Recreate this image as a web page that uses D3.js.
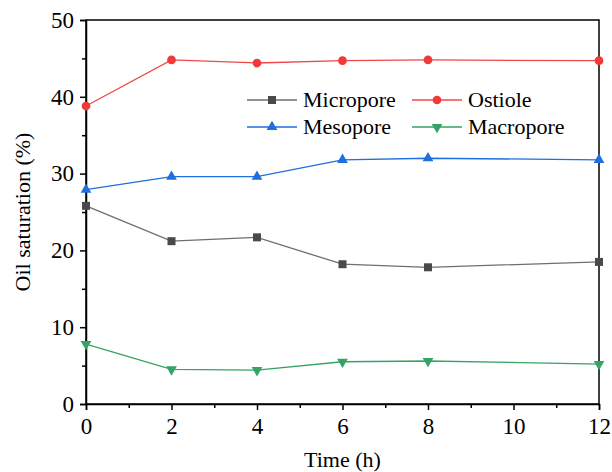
<!DOCTYPE html>
<html>
<head>
<meta charset="utf-8">
<script src="https://cdn.jsdelivr.net/npm/d3@7"></script>
<style>
  body { margin: 0; background: #fff; }
  svg text { font-family: "Liberation Serif", serif !important; fill: #000; }
</style>
</head>
<body>
<div id="chart"></div>
<script>
// Oil saturation vs time by pore type
const times = [0, 2, 4, 6, 8, 12];
const micropore = [25.8, 21.2, 21.7, 18.2, 17.8, 18.5];
const ostiole = [38.8, 44.8, 44.4, 44.7, 44.8, 44.7];
const mesopore = [27.9, 29.6, 29.6, 31.8, 32.0, 31.8];
const macropore = [7.8, 4.5, 4.4, 5.5, 5.6, 5.2];
const xTicks = [0, 2, 4, 6, 8, 10, 12];
const yTicks = [0, 10, 20, 30, 40, 50];

const series = [
    { name: "Micropore", values: micropore, line: "#6e6e6e", fill: "#4a4a4a", symbol: d3.symbolSquare, size: 64, col: 0, row: 0 },
    { name: "Ostiole", values: ostiole, line: "#f04848", fill: "#f03a3a", symbol: d3.symbolCircle, size: 60, col: 1, row: 0 },
    { name: "Mesopore", values: mesopore, line: "#1f6fdc", fill: "#1f6fdc", symbol: d3.symbolTriangle, size: 50, col: 0, row: 1 },
    { name: "Macropore", values: macropore, line: "#36a366", fill: "#36a366", symbol: d3.symbolTriangle, size: 50, col: 1, row: 1, flip: true }
];

const width = 612, height = 472;
const margin = { top: 20, right: 13, bottom: 68, left: 86 };
const serif = '"Liberation Serif", serif';

const svg = d3.select("#chart").append("svg")
    .attr("width", width)
    .attr("height", height)
    .attr("font-family", serif);

const x = d3.scaleLinear()
    .domain([0, 12])
    .range([margin.left, width - margin.right]);

const y = d3.scaleLinear()
    .domain([0, 50])
    .range([height - margin.bottom, margin.top]);

// frame
svg.append("rect")
    .attr("x", margin.left)
    .attr("y", margin.top)
    .attr("width", x(12) - x(0))
    .attr("height", y(0) - y(50))
    .attr("fill", "none")
    .attr("stroke", "#000")
    .attr("stroke-width", 1.5);

// x axis
const xAxis = svg.append("g")
    .attr("transform", `translate(0,${y(0)})`)
    .call(d3.axisBottom(x).tickValues(xTicks).tickSize(6).tickPadding(8).tickFormat(d3.format("d")))
    .attr("font-family", serif);
xAxis.selectAll(".tick line").attr("stroke-width", 1.5);
xAxis.select(".domain").attr("stroke-width", 1.5);
xAxis.selectAll("text").style("font-size", "23px");

svg.append("g")
    .attr("transform", `translate(0,${y(0)})`)
    .call(d3.axisBottom(x).tickValues(d3.range(1, 12, 2)).tickSize(4).tickFormat(""))
    .call(g => g.select(".domain").remove())
    .selectAll(".tick line").attr("stroke-width", 1.5);

// y axis
const yAxis = svg.append("g")
    .attr("transform", `translate(${x(0)},0)`)
    .call(d3.axisLeft(y).tickValues(yTicks).tickSize(6).tickPadding(6))
    .attr("font-family", serif);
yAxis.selectAll(".tick line").attr("stroke-width", 1.5);
yAxis.select(".domain").attr("stroke-width", 1.5);
yAxis.selectAll("text").style("font-size", "23px");

svg.append("g")
    .attr("transform", `translate(${x(0)},0)`)
    .call(d3.axisLeft(y).tickValues(d3.range(5, 50, 10)).tickSize(4).tickFormat(""))
    .call(g => g.select(".domain").remove())
    .selectAll(".tick line").attr("stroke-width", 1.5);

// axis titles
svg.append("text")
    .attr("x", (x(0) + x(12)) / 2)
    .attr("y", 467)
    .attr("text-anchor", "middle")
    .style("font-size", "22px")
    .text("Time (h)");

svg.append("text")
    .attr("transform", "rotate(-90)")
    .attr("x", -(y(0) + y(50)) / 2)
    .attr("y", 30)
    .attr("text-anchor", "middle")
    .style("font-size", "22px")
    .text("Oil saturation (%)");

// lines and markers
const line = d3.line()
    .x((d, i) => x(times[i]))
    .y(d => y(d));

series.forEach(s => {
    svg.append("path")
        .datum(s.values)
        .attr("d", line)
        .attr("fill", "none")
        .attr("stroke", s.line)
        .attr("stroke-width", 1.3);

    svg.selectAll(null)
        .data(s.values)
        .join("path")
        .attr("d", d3.symbol().type(s.symbol).size(s.size))
        .attr("transform", (d, i) => `translate(${x(times[i])},${y(d)})${s.flip ? " rotate(180)" : ""}`)
        .attr("fill", s.fill);
});

// legend
const legend = svg.append("g");
series.forEach(s => {
    const lx = 247 + s.col * 165;
    const ly = 100 + s.row * 27;
    const g = legend.append("g").attr("transform", `translate(${lx},${ly})`);
    g.append("line")
        .attr("x1", 0).attr("x2", 50)
        .attr("stroke", s.line)
        .attr("stroke-width", 1.3);
    g.append("path")
        .attr("d", d3.symbol().type(s.symbol).size(s.size))
        .attr("transform", `translate(25,0)${s.flip ? " rotate(180)" : ""}`)
        .attr("fill", s.fill);
    g.append("text")
        .attr("x", 56)
        .attr("y", 7)
        .style("font-size", "22px")
        .text(s.name);
});
</script>
</body>
</html>
